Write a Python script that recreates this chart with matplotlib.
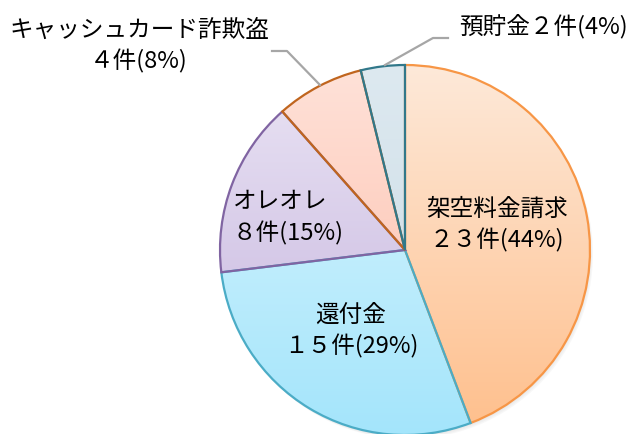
import matplotlib.pyplot as plt
import numpy as np
from matplotlib.colors import LinearSegmentedColormap
from matplotlib.patches import Circle

plt.rcParams['font.family'] = ['Noto Sans CJK JP', 'DejaVu Sans']

# ---------------------------------------------------------------------
# data
# ---------------------------------------------------------------------
categories = ['架空料金請求', '還付金', 'オレオレ', 'キャッシュカード詐欺盗', '預貯金']
counts = [23, 15, 8, 4, 2]

top_colors = ['#FDE9D9', '#DDF6FE', '#EAE4F4', '#FFE2D9', '#DDE9F0']
bottom_colors = ['#FFBF8C', '#A4E5FB', '#C4B2DD', '#FCB9A4', '#C9DAE4']
edge_colors = ['#F79646', '#4BACC6', '#8064A2', '#C0651E', '#31788A']

# ---------------------------------------------------------------------
# figure (axes in pixel units, y up)
# ---------------------------------------------------------------------
W, H = 633, 434
fig = plt.figure(figsize=(W / 100, H / 100), dpi=100)
ax = fig.add_axes([0, 0, 1, 1])

cx, cy, r = 405, H - 250, 185

# soft shadow
for i, a in enumerate([0.05, 0.05, 0.06]):
    ax.add_patch(Circle((cx + 1 + i, cy - 2 - i), r, color='#808080', alpha=a,
                        lw=0, zorder=0))

wedges, _ = ax.pie(counts, center=(cx, cy), radius=r, startangle=90,
                   counterclock=False,
                   wedgeprops=dict(linewidth=1.6, zorder=2))

# vertical gradient fill clipped to each wedge
grad = np.linspace(0, 1, 256).reshape(-1, 1)
for w, tc, bc, ec in zip(wedges, top_colors, bottom_colors, edge_colors):
    w.set_facecolor('none')
    w.set_edgecolor(ec)
    cmap = LinearSegmentedColormap.from_list('g', [tc, bc])
    im = ax.imshow(grad, extent=(cx - r, cx + r, cy - r, cy + r), origin='upper',
                   cmap=cmap, aspect='auto', zorder=1, interpolation='bilinear')
    im.set_clip_path(w)

ax.set_xlim(0, W)
ax.set_ylim(0, H)
ax.set_aspect('auto')
ax.axis('off')

# ---------------------------------------------------------------------
# labels
# ---------------------------------------------------------------------
full = str.maketrans('0123456789', '０１２３４５６７８９')
total = sum(counts)
texts = []
for cat, c in zip(categories, counts):
    pct = round(c / total * 100)
    texts.append((cat, str(c).translate(full) + '件' + '(%d%%)' % pct))

fs = 17
# label positions in image pixels (x, y from top)
ax.text(497, H - 225, texts[0][0] + '\n' + texts[0][1], ha='center', va='center',
        fontsize=fs, linespacing=1.4, zorder=3)
ax.text(351, H - 331, texts[1][0] + '\n' + texts[1][1], ha='center', va='center',
        fontsize=fs, linespacing=1.4, zorder=3)
ax.text(233, H - 218, texts[2][0] + '\n' + texts[2][1], ha='left', va='center',
        fontsize=fs, linespacing=1.4, zorder=3)
ax.text(139, H - 46, texts[3][0] + '\n' + texts[3][1], ha='center', va='center',
        fontsize=fs, linespacing=1.4, zorder=3)
ax.text(543, H - 26, texts[4][0] + texts[4][1], ha='center', va='center',
        fontsize=fs, zorder=3)

# leader lines
ax.plot([272, 287, 320], [H - 51, H - 51, H - 85], color='#A6A6A6', lw=1.6, zorder=3)
ax.plot([448, 433, 385], [H - 38, H - 38, H - 65], color='#A6A6A6', lw=1.6, zorder=3)

plt.savefig('out.png', dpi=100)
